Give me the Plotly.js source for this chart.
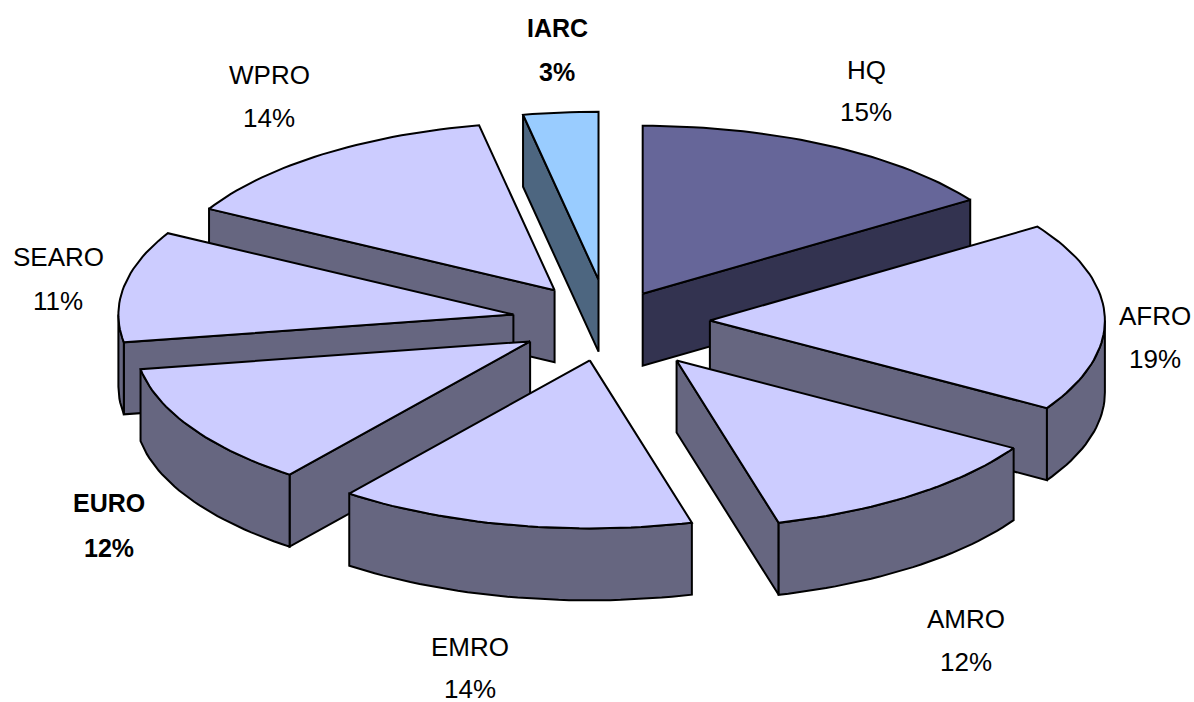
<!DOCTYPE html>
<html>
<head>
<meta charset="utf-8">
<script src="https://cdn.plot.ly/plotly-3.0.1.min.js"></script>
<style>html,body{margin:0;padding:0;background:#fff}#chart{width:1194px;height:702px}</style>
</head>
<body>
<div id="chart"></div>
<script>
// Data
const categories = ["HQ","AFRO","AMRO","EMRO","EURO","SEARO","WPRO","IARC"];
const printedPercent = [15,19,12,14,12,11,14,3];
// Share of the circle each slice visibly occupies in the drawing
const drawnShare = [15.56,18.17,12.11,14.58,11.94,10.69,13.89,3.06];
const slicePull = [0.187,0.258,0.29,0.236,0.23,0.243,0.23,0.25];
const boldLabel = [false,false,false,false,true,false,false,true];

// Styles and layout of the fake-3D pie
const topColor  = ["#666699","#CCCCFF","#CCCCFF","#CCCCFF","#CCCCFF","#CCCCFF","#CCCCFF","#99CCFF"];
const sideColor = ["#333350","#666680","#666680","#666680","#666680","#666680","#666680","#4D6680"];
const labelX = [866,1155,966,470,109,58,269,557];
const labelY1 = [70,316,619,647,503,257,75,28];
const labelY2 = [112,359,662,689,548,301,118,72];
const paintOrder = [6,7,0,5,1,4,2,3];
const cx = 608, cy = 321.5, rx = 395, ry = 168, depth = 72;

const rad = d => d*Math.PI/180;
const total = drawnShare.reduce((a,b)=>a+b,0);
let acc = 0;
const slices = categories.map((name,i)=>{
  const a = acc/total*360; acc += drawnShare[i]; const b = acc/total*360;
  const m = (a+b)/2;
  return {i,name,a,b,
    ax: cx + slicePull[i]*rx*Math.sin(rad(m)),
    ay: cy - slicePull[i]*ry*Math.cos(rad(m))};
});
function rimPt(s,d,z){return [s.ax+rx*Math.sin(rad(d)), s.ay-ry*Math.cos(rad(d))+z];}
function arc(s,from,to,z){
  const pts=[], n=Math.max(2,Math.ceil(Math.abs(to-from)/1.5));
  for(let k=0;k<=n;k++) pts.push(rimPt(s,from+(to-from)*k/n,z));
  return pts;
}
function poly(pts,fill){
  return {type:"scatter",mode:"lines",x:pts.map(p=>p[0]).concat(pts[0][0]),y:pts.map(p=>p[1]).concat(pts[0][1]),
    fill:"toself",fillcolor:fill,line:{color:"#000",width:2,shape:"linear"},hoverinfo:"skip",showlegend:false};
}
const traces=[];
paintOrder.forEach(idx=>{
  const s=slices[idx];
  const apexTop=[s.ax,s.ay], apexBot=[s.ax,s.ay+depth];
  const col=sideColor[idx];
  if(s.a>180 && s.a<360){
    const p=rimPt(s,s.a,0), q=rimPt(s,s.a,depth);
    traces.push(poly([apexTop,p,q,apexBot],col));
  }
  if(s.b>0 && s.b<180){
    const p=rimPt(s,s.b,0), q=rimPt(s,s.b,depth);
    traces.push(poly([apexTop,p,q,apexBot],col));
  }
  const from=Math.max(s.a,90), to=Math.min(s.b,270);
  if(to>from){
    traces.push(poly(arc(s,from,to,0).concat(arc(s,to,from,depth)),col));
  }
  traces.push(poly([apexTop].concat(arc(s,s.a,s.b,0)),topColor[idx]));
});

const annotations=[];
categories.forEach((name,i)=>{
  const font={family:"Liberation Sans, Arial, sans-serif",size:boldLabel[i]?25:26,color:"#000"};
  const wrap=t=>boldLabel[i]?"<b>"+t+"</b>":t;
  annotations.push({x:labelX[i],y:labelY1[i],xref:"x",yref:"y",text:wrap(name),showarrow:false,font,xanchor:"center",yanchor:"middle"});
  annotations.push({x:labelX[i],y:labelY2[i],xref:"x",yref:"y",text:wrap(printedPercent[i]+"%"),showarrow:false,font,xanchor:"center",yanchor:"middle"});
});

Plotly.newPlot("chart",traces,{
  width:1194,height:702,margin:{l:0,r:0,t:0,b:0},paper_bgcolor:"#fff",plot_bgcolor:"#fff",showlegend:false,
  xaxis:{range:[0,1194],visible:false,fixedrange:true},
  yaxis:{range:[702,0],visible:false,fixedrange:true},
  annotations
},{displayModeBar:false,staticPlot:true});
</script>
</body>
</html>
